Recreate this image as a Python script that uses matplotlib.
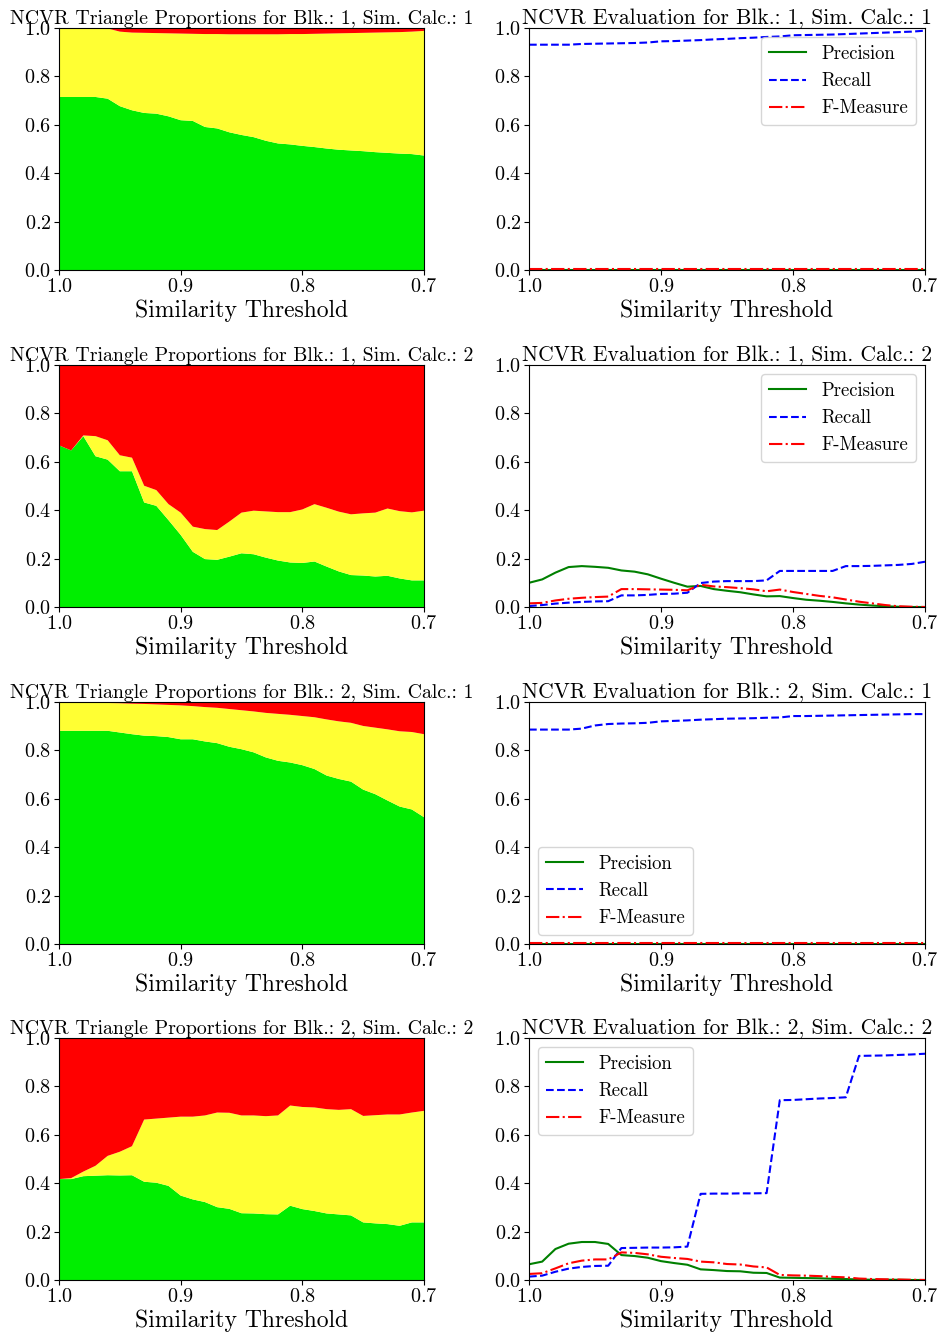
import numpy as np
import matplotlib
matplotlib.use('Agg')
import matplotlib.pyplot as plt

plt.rcParams['font.family'] = ['cmr10', 'DejaVu Serif']
plt.rcParams['mathtext.fontset'] = 'cm'
plt.rcParams['axes.formatter.use_mathtext'] = True

# similarity thresholds, 1.00 down to 0.70
thresholds = [1.00, 0.99, 0.98, 0.97, 0.96, 0.95, 0.94, 0.93, 0.92, 0.91,
              0.90, 0.89, 0.88, 0.87, 0.86, 0.85, 0.84, 0.83, 0.82, 0.81,
              0.80, 0.79, 0.78, 0.77, 0.76, 0.75, 0.74, 0.73, 0.72, 0.71, 0.70]

# triangle proportions: green share and green+yellow cumulative share
green_b1s1 = [0.715, 0.715, 0.715, 0.715, 0.708, 0.677, 0.660, 0.649, 0.646, 0.635,
              0.619, 0.616, 0.591, 0.585, 0.569, 0.558, 0.549, 0.534, 0.523, 0.519,
              0.513, 0.508, 0.502, 0.497, 0.494, 0.491, 0.487, 0.484, 0.481, 0.479, 0.473]
top_b1s1 = [0.998, 0.998, 0.998, 0.998, 0.998, 0.985, 0.981, 0.980, 0.979, 0.978,
            0.977, 0.976, 0.975, 0.975, 0.974, 0.974, 0.974, 0.974, 0.974, 0.975,
            0.975, 0.976, 0.977, 0.978, 0.979, 0.980, 0.981, 0.982, 0.983, 0.985, 0.988]

green_b1s2 = [0.668, 0.647, 0.706, 0.623, 0.609, 0.561, 0.561, 0.432, 0.418, 0.359,
              0.298, 0.228, 0.198, 0.195, 0.208, 0.222, 0.218, 0.204, 0.192, 0.184,
              0.182, 0.188, 0.167, 0.147, 0.132, 0.130, 0.126, 0.129, 0.118, 0.110, 0.110]
top_b1s2 = [0.668, 0.647, 0.709, 0.706, 0.689, 0.627, 0.617, 0.501, 0.483, 0.425,
            0.390, 0.332, 0.322, 0.318, 0.353, 0.390, 0.398, 0.395, 0.392, 0.392,
            0.403, 0.425, 0.410, 0.394, 0.383, 0.387, 0.390, 0.407, 0.396, 0.391, 0.398]

green_b2s1 = [0.881, 0.881, 0.881, 0.881, 0.881, 0.874, 0.867, 0.861, 0.859, 0.855,
              0.846, 0.846, 0.837, 0.830, 0.815, 0.805, 0.792, 0.771, 0.757, 0.750,
              0.739, 0.723, 0.696, 0.682, 0.671, 0.638, 0.619, 0.593, 0.568, 0.556, 0.524]
top_b2s1 = [0.998, 0.998, 0.998, 0.997, 0.996, 0.995, 0.993, 0.992, 0.990, 0.988,
            0.986, 0.983, 0.979, 0.976, 0.971, 0.966, 0.961, 0.955, 0.951, 0.947,
            0.942, 0.937, 0.928, 0.920, 0.914, 0.901, 0.894, 0.887, 0.879, 0.876, 0.867]

green_b2s2 = [0.417, 0.417, 0.429, 0.431, 0.433, 0.432, 0.433, 0.406, 0.402, 0.389,
              0.349, 0.333, 0.322, 0.301, 0.294, 0.276, 0.275, 0.272, 0.271, 0.307,
              0.293, 0.285, 0.275, 0.271, 0.267, 0.238, 0.234, 0.231, 0.224, 0.238, 0.238]
top_b2s2 = [0.417, 0.421, 0.448, 0.472, 0.513, 0.530, 0.553, 0.663, 0.667, 0.671,
            0.675, 0.675, 0.680, 0.692, 0.691, 0.680, 0.680, 0.677, 0.680, 0.721,
            0.715, 0.713, 0.706, 0.703, 0.706, 0.678, 0.681, 0.684, 0.684, 0.692, 0.699]

# evaluation measures
prec_b1s1 = [0.002] * 31
rec_b1s1 = [0.931, 0.931, 0.931, 0.931, 0.934, 0.935, 0.936, 0.937, 0.938, 0.940,
            0.945, 0.946, 0.948, 0.950, 0.953, 0.955, 0.958, 0.960, 0.963, 0.965,
            0.970, 0.971, 0.972, 0.973, 0.975, 0.977, 0.979, 0.981, 0.983, 0.985, 0.989]
f_b1s1 = [0.003] * 31

prec_b1s2 = [0.100, 0.114, 0.142, 0.165, 0.169, 0.166, 0.162, 0.151, 0.146, 0.135,
             0.117, 0.100, 0.084, 0.087, 0.074, 0.067, 0.061, 0.052, 0.044, 0.045,
             0.037, 0.030, 0.026, 0.021, 0.015, 0.010, 0.006, 0.003, 0.001, 0.000, 0.000]
rec_b1s2 = [0.004, 0.008, 0.014, 0.018, 0.021, 0.023, 0.024, 0.048, 0.048, 0.050,
            0.054, 0.055, 0.059, 0.099, 0.105, 0.107, 0.107, 0.107, 0.110, 0.149,
            0.149, 0.149, 0.149, 0.149, 0.169, 0.169, 0.170, 0.172, 0.174, 0.178, 0.187]
f_b1s2 = [0.015, 0.017, 0.027, 0.034, 0.038, 0.041, 0.043, 0.074, 0.074, 0.073,
          0.072, 0.071, 0.069, 0.092, 0.085, 0.082, 0.078, 0.073, 0.065, 0.072,
          0.062, 0.054, 0.046, 0.040, 0.031, 0.022, 0.015, 0.008, 0.003, 0.001, 0.000]

prec_b2s1 = [0.002] * 31
rec_b2s1 = [0.886, 0.886, 0.886, 0.886, 0.890, 0.903, 0.909, 0.911, 0.912, 0.914,
            0.920, 0.922, 0.924, 0.927, 0.929, 0.931, 0.932, 0.933, 0.935, 0.936,
            0.942, 0.942, 0.943, 0.944, 0.945, 0.946, 0.947, 0.948, 0.949, 0.950, 0.950]
f_b2s1 = [0.004] * 31

prec_b2s2 = [0.065, 0.076, 0.128, 0.150, 0.157, 0.157, 0.149, 0.103, 0.099, 0.092,
             0.078, 0.070, 0.063, 0.044, 0.041, 0.037, 0.036, 0.030, 0.029, 0.010,
             0.009, 0.008, 0.007, 0.005, 0.004, 0.002, 0.001, 0.001, 0.001, 0.000, 0.000]
rec_b2s2 = [0.014, 0.018, 0.034, 0.047, 0.054, 0.058, 0.059, 0.132, 0.133, 0.134,
            0.134, 0.135, 0.138, 0.356, 0.357, 0.357, 0.358, 0.358, 0.359, 0.743,
            0.744, 0.747, 0.750, 0.752, 0.755, 0.926, 0.927, 0.928, 0.930, 0.932, 0.935]
f_b2s2 = [0.025, 0.028, 0.048, 0.069, 0.080, 0.085, 0.085, 0.114, 0.112, 0.106,
          0.096, 0.091, 0.087, 0.076, 0.073, 0.066, 0.064, 0.056, 0.052, 0.021,
          0.019, 0.018, 0.016, 0.013, 0.011, 0.006, 0.004, 0.003, 0.002, 0.001, 0.000]

runs = [
    (1, 1, green_b1s1, top_b1s1, prec_b1s1, rec_b1s1, f_b1s1, 'upper right'),
    (1, 2, green_b1s2, top_b1s2, prec_b1s2, rec_b1s2, f_b1s2, 'upper right'),
    (2, 1, green_b2s1, top_b2s1, prec_b2s1, rec_b2s1, f_b2s1, 'lower left'),
    (2, 2, green_b2s2, top_b2s2, prec_b2s2, rec_b2s2, f_b2s2, 'upper left'),
]

W, H = 942, 1337
fig = plt.figure(figsize=(W / 100, H / 100), dpi=100)
row_top = [28, 365, 702, 1038]
ax_h = 242

x = np.array(thresholds)
for r, (blk, sim, green, top, prec, rec, fm, loc) in enumerate(runs):
    g = np.array(green)
    t = np.array(top)
    yellow = t - g
    red = 1.0 - t
    bottom = 1 - (row_top[r] + ax_h) / H

    ax = fig.add_axes([59 / W, bottom, 365 / W, ax_h / H])
    ax.stackplot(x, g, yellow, red, colors=['#00ee00', '#ffff33', '#ff0000'])
    ax.set_xlim(1.0, 0.7)
    ax.set_ylim(0, 1)
    ax.set_xticks([1.0, 0.9, 0.8, 0.7])
    ax.set_title('NCVR Triangle Proportions for Blk.: %d, Sim. Calc.: %d' % (blk, sim),
                 fontsize=14.3, pad=1)
    ax.set_xlabel('Similarity Threshold', fontsize=17, labelpad=3)
    ax.tick_params(labelsize=14.5, pad=2)

    ax2 = fig.add_axes([529 / W, bottom, 396 / W, ax_h / H])
    ax2.plot(x, prec, 'g-', label='Precision')
    ax2.plot(x, rec, 'b--', label='Recall')
    ax2.plot(x, fm, 'r-.', label='F-Measure')
    ax2.set_xlim(1.0, 0.7)
    ax2.set_ylim(0, 1)
    ax2.set_xticks([1.0, 0.9, 0.8, 0.7])
    ax2.set_title('NCVR Evaluation for Blk.: %d, Sim. Calc.: %d' % (blk, sim),
                  fontsize=15.5, pad=1)
    ax2.set_xlabel('Similarity Threshold', fontsize=17, labelpad=3)
    ax2.tick_params(labelsize=14.5, pad=2)
    ax2.legend(loc=loc, fontsize=13.5)

fig.savefig('out.png', dpi=100)
